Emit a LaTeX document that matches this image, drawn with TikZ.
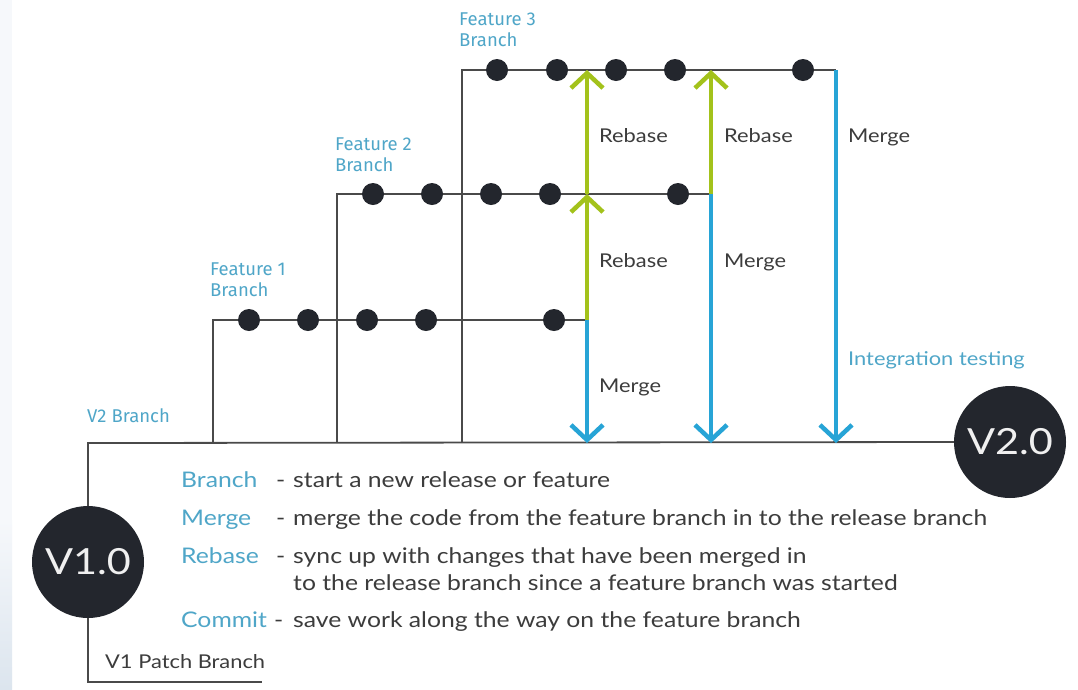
\documentclass[tikz,border=0pt]{standalone}
\usepackage{fontspec}
\setmainfont[FakeStretch=1.15]{Lato}
\newfontfamily\condfont[FakeStretch=1.0]{Fira Sans}
\usetikzlibrary{arrows.meta}

\definecolor{linegray}{HTML}{4A4A4A}
\definecolor{dotblack}{HTML}{23262D}
\definecolor{mergeblue}{HTML}{27A4D6}
\definecolor{rebasegreen}{HTML}{A3C21B}
\definecolor{labelblue}{HTML}{4FA6C8}
\definecolor{textgray}{HTML}{3C3C3C}
\definecolor{edgetint}{HTML}{F6F8FB}
\definecolor{edgeblue}{HTML}{DCE5EE}

\begin{document}
\begin{tikzpicture}[x=1pt,y=-1pt,
  branchline/.style={draw=linegray,line width=1.8pt},
  commit/.style={circle,fill=dotblack,minimum size=22pt,inner sep=0pt},
  release/.style={circle,fill=dotblack,minimum size=112pt,inner sep=0pt,
    text=white!88!gray,font=\fontsize{36}{36}\selectfont},
  chevron/.style={-{Straight Barb[length=15pt,width=32pt]}},
  mergearrow/.style={draw=mergeblue,line width=4.5pt,chevron},
  rebasearrow/.style={draw=rebasegreen,line width=4.5pt,chevron},
  branchname/.style={text=labelblue,font=\condfont\fontsize{18.5}{21}\selectfont,
    align=left,inner sep=0pt},
  actionlabel/.style={text=textgray,font=\fontsize{19}{21}\selectfont,inner sep=0pt,anchor=base west},
  term/.style={text=labelblue,font=\fontsize{21.5}{25}\selectfont,inner sep=0pt,anchor=base west},
  desc/.style={text=textgray,font=\fontsize{21.5}{25}\selectfont,inner sep=0pt,anchor=base west},
]
% canvas
\fill[white] (0,0) rectangle (1078,689);
\fill[edgetint] (0,0) rectangle (12,520);
\shade[top color=edgetint,bottom color=edgeblue] (0,520) rectangle (12,689);
\useasboundingbox (0,0) rectangle (1078,689);

% release points
\node[release] (v1) at (88,562) {V1.0};
\node[release] (v2) at (1010,442) {V2.0};

% branch corners and ends
\coordinate (v2start) at (88,443);
\coordinate (patchend) at (262,682);
\coordinate (patchcorner) at (88,682);
\coordinate (f1base) at (213,443);
\coordinate (f1top) at (213,320);
\coordinate (f1end) at (587,320);
\coordinate (f2base) at (337,443);
\coordinate (f2top) at (337,194);
\coordinate (f2end) at (711,194);
\coordinate (f3base) at (462,443);
\coordinate (f3top) at (462,70);
\coordinate (f3end) at (836,70);
\coordinate (m1) at (587,443);
\coordinate (m2) at (711,443);
\coordinate (m3) at (836,443);

% V2 release branch and V1 patch branch
\draw[branchline] (v1.north) -- (v2start) -- (v2.west);
\draw[branchline] (v1.south) -- (patchcorner) -- (patchend);

% feature branches
\draw[branchline] (f1base) -- (f1top) -- (f1end);
\draw[branchline] (f2base) -- (f2top) -- (f2end);
\draw[branchline] (f3base) -- (f3top) -- (f3end);

% commits
\foreach \x [count=\i] in {249,308,367,426,554}
  \node[commit] (a\i) at (\x,320) {};
\foreach \x [count=\i] in {373,432,491,550,678}
  \node[commit] (b\i) at (\x,194) {};
\foreach \x [count=\i] in {497,557,616,675,803}
  \node[commit] (c\i) at (\x,70) {};

% rebases
\draw[rebasearrow] (f1end) -- (587,194) coordinate (r1);
\draw[rebasearrow] (r1) -- (587,70);
\draw[rebasearrow] (f2end) -- (711,70);

% merges
\draw[mergearrow] (f1end) -- (m1);
\draw[mergearrow] (f2end) -- (m2);
\draw[mergearrow] (f3end) -- (m3);

% action labels
\node[actionlabel] (lr1) at (599,142) {Rebase};
\node[actionlabel] (lr2) at (724,142) {Rebase};
\node[actionlabel] (lm3) at (848,142) {Merge};
\node[actionlabel] (lr3) at (599,267) {Rebase};
\node[actionlabel] (lm2) at (724,267) {Merge};
\node[actionlabel,text=labelblue] (lit) at (848,365) {Integration testing};
\node[actionlabel] (lm1) at (599,392) {Merge};

% branch names
\node[branchname,anchor=north west] (n3) at (459,13) {Feature 3\\Branch};
\node[branchname,anchor=north west] (n2) at (335,138) {Feature 2\\Branch};
\node[branchname,anchor=north west] (n1) at (210,263) {Feature 1\\Branch};
\node[branchname,anchor=base west] (nv2) at (87,422) {V2 Branch};
\node[desc,font=\fontsize{19}{21}\selectfont] (nv1) at (105,668) {V1 Patch Branch};

% legend
\node[term] (t1) at (181,487) {Branch};
\node[term] (t2) at (181,525) {Merge};
\node[term] (t3) at (181,563) {Rebase};
\node[term] (t4) at (181,627) {Commit};
\node[desc] (d1) at (276,487) {-};
\node[desc] (d2) at (276,525) {-};
\node[desc] (d3) at (276,563) {-};
\node[desc] (d4) at (274,627) {-};
\node[desc] (e1) at (293,487) {start a new release or feature};
\node[desc] (e2) at (293,525) {merge the code from the feature branch in to the release branch};
\node[desc] (e3) at (293,563) {sync up with changes that have been merged in};
\node[desc] (e3b) at (293,590) {to the release branch since a feature branch was started};
\node[desc] (e4) at (293,627) {save work along the way on the feature branch};
\end{tikzpicture}
\end{document}
